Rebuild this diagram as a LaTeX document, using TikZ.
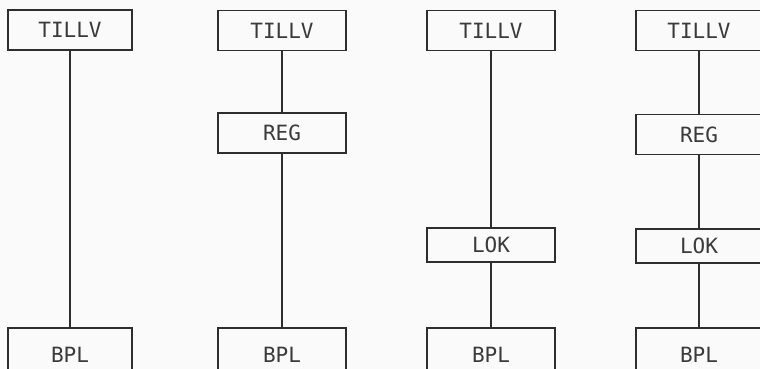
\documentclass[tikz,border=0pt]{standalone}
\usepackage{fontspec}
\newfontfamily\boxfont{DejaVu Sans Mono}
\definecolor{ink}{HTML}{2E2E2E}
\definecolor{label}{HTML}{3A3A3A}
\definecolor{paper}{HTML}{FAFAFA}
\begin{document}
\begin{tikzpicture}[x=1pt,y=-1pt,
  unit/.style={draw=ink, line width=1.6pt, fill=paper, rectangle, inner sep=0pt,
    minimum width=126pt, minimum height=40pt, text=label,
    font=\boxfont\fontsize{21}{21}\selectfont},
  base/.style={unit, minimum height=54pt},
  link/.style={draw=ink, line width=1.6pt}]
  \useasboundingbox[fill=paper] (0,0) rectangle (760,369);
  \begin{scope}
  \clip (0,0) rectangle (760,369);
  % column 1: TILLV directly to BPL
  \node[unit, minimum width=124pt] (t1) at (70,30) {TILLV};
  \node[base, minimum width=124pt] (b1) at (70,355) {BPL};
  \draw[link] (t1) -- (b1);
  % column 2: via REG
  \node[unit, minimum width=128pt] (t2) at (282,30.5) {TILLV};
  \node[unit, minimum width=128pt] (r2) at (282,133) {REG};
  \node[base, minimum width=128pt] (b2) at (282,355) {BPL};
  \draw[link] (t2) -- (r2);
  \draw[link] (r2) -- (b2);
  % column 3: via LOK
  \node[unit, minimum width=128pt] (t3) at (491,30.5) {TILLV};
  \node[unit, minimum width=128pt, minimum height=34pt] (l3) at (491,245) {LOK};
  \node[base, minimum width=128pt] (b3) at (491,355) {BPL};
  \draw[link] (t3) -- (l3);
  \draw[link] (l3) -- (b3);
  % column 4: via REG and LOK
  \node[unit] (t4) at (699,30.5) {TILLV};
  \node[unit] (r4) at (699,134.5) {REG};
  \node[unit, minimum height=34pt] (l4) at (699,246) {LOK};
  \node[base] (b4) at (699,355) {BPL};
  \draw[link] (t4) -- (r4);
  \draw[link] (r4) -- (l4);
  \draw[link] (l4) -- (b4);
  \end{scope}
\end{tikzpicture}
\end{document}
